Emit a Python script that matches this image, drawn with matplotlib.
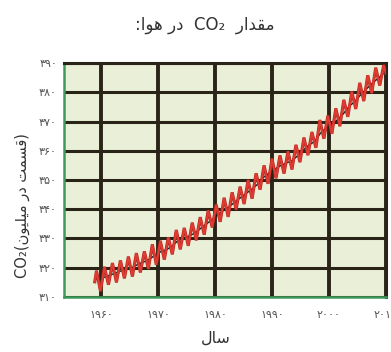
import matplotlib
matplotlib.use('Agg')
import matplotlib.pyplot as plt
import matplotlib.patheffects as pe

# ---------------- data ----------------
# smooth trend (annual mean, ppm)
trend_years = list(range(1959, 2010))
co2_trend = [315.8, 316.7, 317.4, 318.2, 318.9, 319.5, 320.1, 321.2, 322.0, 322.9,
             324.4, 325.5, 326.2, 327.4, 329.3, 330.0, 330.9, 331.9, 333.5, 335.0,
             336.5, 338.2, 339.6, 340.9, 342.5, 344.0, 345.5, 346.9, 348.6, 350.9,
             352.4, 353.7, 354.9, 355.8, 356.6, 358.3, 360.2, 362.0, 363.2, 366.0,
             367.8, 369.1, 370.6, 372.6, 375.1, 376.8, 379.0, 381.0, 382.9, 384.6,
             386.3]

# seasonal zig-zag as drawn (time in years, ppm)
zig_time = [1958.9,
            1959.2, 1959.9, 1960.6, 1961.3, 1962.0, 1962.7, 1963.4, 1964.1, 1964.8, 1965.5,
            1966.2, 1966.9, 1967.6, 1968.3, 1969.0, 1969.7, 1970.4, 1971.1, 1971.8, 1972.5,
            1973.2, 1973.9, 1974.6, 1975.3, 1976.0, 1976.7, 1977.4, 1978.1, 1978.8, 1979.5,
            1980.2, 1980.9, 1981.6, 1982.3, 1983.0, 1983.7, 1984.4, 1985.1, 1985.8, 1986.5,
            1987.2, 1987.9, 1988.6, 1989.3, 1990.0, 1990.7, 1991.4, 1992.1, 1992.8, 1993.5,
            1994.2, 1994.9, 1995.6, 1996.3, 1997.0, 1997.7, 1998.4, 1999.1, 1999.8, 2000.5,
            2001.2, 2001.9, 2002.6, 2003.3, 2004.0, 2004.7, 2005.4, 2006.1, 2006.8, 2007.5,
            2008.2, 2008.9, 2009.6, 2010.0]
zig_co2 = [315.2,
           319.0, 312.0, 320.3, 314.2, 321.6, 315.0, 322.5, 316.4, 323.8, 317.0,
           325.0, 318.4, 325.6, 319.6, 328.0, 321.0, 329.2, 322.8, 330.4, 324.6,
           332.9, 326.3, 333.6, 327.5, 335.4, 329.4, 337.3, 331.3, 339.6, 333.8,
           341.6, 335.7, 343.9, 337.4, 345.8, 339.9, 347.7, 341.8, 350.0, 343.6,
           352.3, 346.7, 355.0, 348.7, 357.3, 350.6, 358.4, 352.2, 359.8, 353.6,
           362.0, 356.1, 364.5, 358.5, 366.4, 361.0, 370.5, 364.1, 372.0, 365.8,
           374.5, 368.4, 377.4, 371.6, 380.2, 374.3, 383.2, 377.0, 385.8, 379.7,
           388.4, 382.3, 389.3, 386.5]

y_ticks = [310, 320, 330, 340, 350, 360, 370, 380, 390]
x_ticks = [1960, 1970, 1980, 1990, 2000, 2010]

title_word1 = "مقدار"
title_word2 = "در"
title_word3 = "هوا"
ylabel_text = "قسمت در میلیون"
xlabel_text = "سال"

# ------------- simple Arabic/Persian shaping -------------
FORMS = {  # iso, fin, ini, med
    'ا': ('\uFE8D', '\uFE8E', None, None),
    'د': ('\uFEA9', '\uFEAA', None, None),
    'ر': ('\uFEAD', '\uFEAE', None, None),
    'و': ('\uFEED', '\uFEEE', None, None),
    'م': ('\uFEE1', '\uFEE2', '\uFEE3', '\uFEE4'),
    'ق': ('\uFED5', '\uFED6', '\uFED7', '\uFED8'),
    'ه': ('\uFEE9', '\uFEEA', '\uFEEB', '\uFEEC'),
    'س': ('\uFEB1', '\uFEB2', '\uFEB3', '\uFEB4'),
    'ت': ('\uFE95', '\uFE96', '\uFE97', '\uFE98'),
    'ل': ('\uFEDD', '\uFEDE', '\uFEDF', '\uFEE0'),
    'ن': ('\uFEE5', '\uFEE6', '\uFEE7', '\uFEE8'),
    'ی': ('\uFEEF', '\uFEF0', '\uFEF3', '\uFEF4'),
}


def dual(c):
    return c in FORMS and FORMS[c][2] is not None


def shape_rtl(s):
    out = []
    for i, c in enumerate(s):
        if c not in FORMS:
            out.append(c)
            continue
        prev = s[i - 1] if i > 0 else ''
        nxt = s[i + 1] if i + 1 < len(s) else ''
        jp = dual(prev)
        jn = dual(c) and nxt in FORMS
        iso, fin, ini, med = FORMS[c]
        if jp and jn:
            out.append(med)
        elif jp:
            out.append(fin)
        elif jn:
            out.append(ini)
        else:
            out.append(iso)
    return ''.join(reversed(out))


PERSIAN_DIGITS = str.maketrans('0123456789', '۰۱۲۳۴۵۶۷۸۹')


def fa(n):
    return str(n).translate(PERSIAN_DIGITS)


# ---------------- figure ----------------
fig = plt.figure(figsize=(3.91, 3.52), dpi=100)
fig.patch.set_facecolor('white')
ax = fig.add_axes([64 / 391, 1 - 297 / 352, 322 / 391, 234 / 352])
ax.set_facecolor('#eaefd8')

grid_col = '#2a2418'
ax.set_xlim(1953.5, 2010)
ax.set_ylim(310, 390)
ax.set_xticks(x_ticks)
ax.set_yticks(y_ticks)
ax.set_xticklabels([fa(v) for v in x_ticks], fontsize=8, color='#555555',
                   family='DejaVu Sans')
ax.set_yticklabels([fa(v) for v in y_ticks], fontsize=8, color='#555555',
                   family='DejaVu Sans')
ax.tick_params(length=0)
ax.tick_params(axis='x', pad=9)
ax.tick_params(axis='y', pad=5)
ax.xaxis.grid(True, color=grid_col, linewidth=2.8)
ax.yaxis.grid(True, color=grid_col, linewidth=2.2)
ax.set_axisbelow(True)

for side in ('left', 'bottom'):
    ax.spines[side].set_color('#3d9a5b')
    ax.spines[side].set_linewidth(1.8)
for side in ('top', 'right'):
    ax.spines[side].set_color(grid_col)
    ax.spines[side].set_linewidth(2.2)

ax.plot([yr + 0.5 for yr in trend_years], co2_trend, color='#1a1a1a', linewidth=1.0,
        zorder=3)
ax.plot(zig_time, zig_co2, color='#de3b33', linewidth=1.4, zorder=4,
        solid_joinstyle='miter',
        path_effects=[pe.Stroke(linewidth=2.2, foreground='#b8261f'), pe.Normal()])

# texts
title = ':' + shape_rtl(title_word3) + ' ' + shape_rtl(title_word2) + '  CO₂  ' + shape_rtl(title_word1)
fig.text(205 / 391, 1 - 25 / 352, title, ha='center', va='center', fontsize=12,
         color='#333333', family='DejaVu Sans')

ylab = 'CO₂(' + shape_rtl(ylabel_text) + ')'
fig.text(22 / 391, 1 - 206 / 352, ylab, ha='center', va='center', rotation=90,
         fontsize=10.5, color='#333333', family='DejaVu Sans')

fig.text(216 / 391, 1 - 338 / 352, shape_rtl(xlabel_text), ha='center', va='center',
         fontsize=11.5, color='#333333', family='DejaVu Sans')

fig.savefig('out.png', dpi=100, facecolor='white')
